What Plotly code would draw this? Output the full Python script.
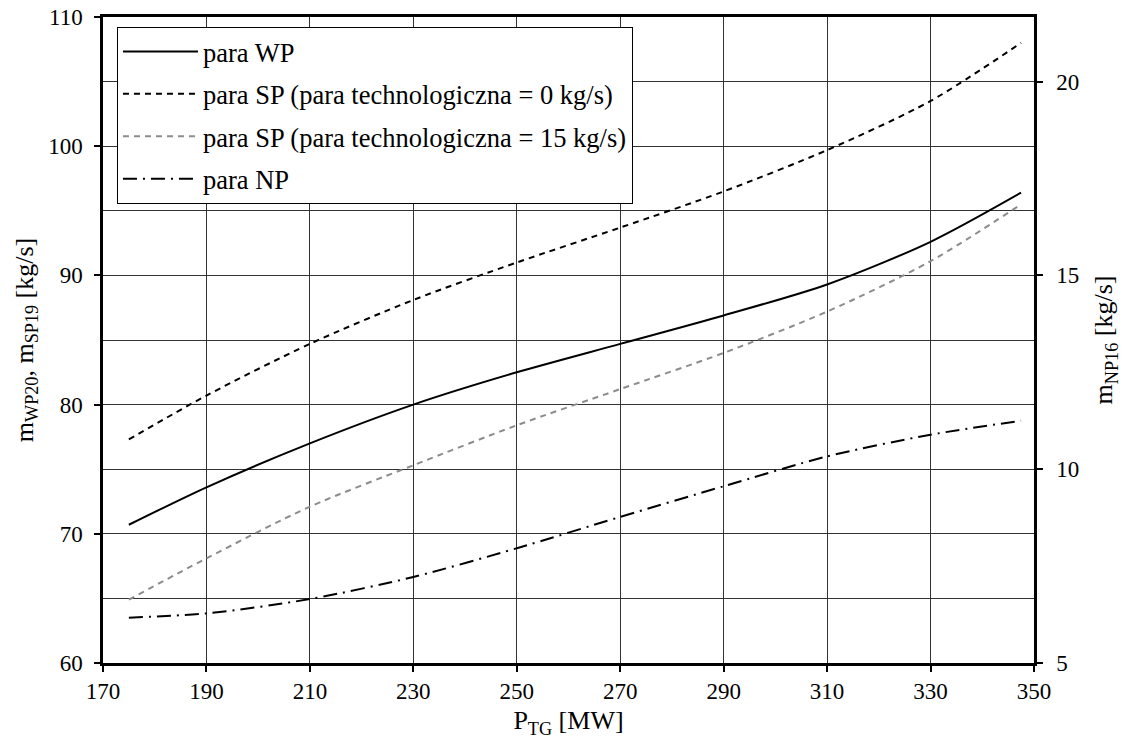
import plotly.graph_objects as go

# Turbine-generator power [MW]
p_tg = [175, 190, 210, 230, 250, 270, 290, 310, 330, 347.5]

# Steam flows [kg/s]
para_wp = [70.7, 73.6, 77.0, 80.0, 82.5, 84.7, 86.9, 89.3, 92.6, 96.4]
para_sp_0 = [77.3, 80.7, 84.7, 88.1, 91.0, 93.7, 96.5, 99.7, 103.5, 108.0]
para_sp_15 = [64.9, 68.1, 72.1, 75.3, 78.4, 81.2, 84.0, 87.2, 91.1, 95.5]
para_np = [6.17, 6.28, 6.65, 7.22, 7.96, 8.77, 9.56, 10.33, 10.89, 11.25]

names = [
    "para WP",
    "para SP (para technologiczna = 0 kg/s)",
    "para SP (para technologiczna = 15 kg/s)",
    "para NP",
]

FONT = "Liberation Serif, Times New Roman, serif"

fig = go.Figure()

fig.add_trace(go.Scatter(
    x=p_tg, y=para_wp, name=names[0], mode="lines", legendgroup="a",
    line=dict(color="black", width=2, shape="spline", smoothing=0.8),
))
fig.add_trace(go.Scatter(
    x=p_tg, y=para_sp_0, name=names[1], mode="lines", legendgroup="b",
    line=dict(color="black", width=2, dash="6px,5px", shape="spline", smoothing=0.8),
))
fig.add_trace(go.Scatter(
    x=p_tg, y=para_sp_15, name=names[2], mode="lines", legendgroup="c",
    line=dict(color="#8c8c8c", width=2, dash="6px,5px", shape="spline", smoothing=0.8),
))
fig.add_trace(go.Scatter(
    x=p_tg, y=para_np, name=names[3], mode="lines", legendgroup="d", yaxis="y2",
    line=dict(color="black", width=2, dash="14px,6px,2px,6px", shape="spline", smoothing=0.8),
))

axis_common = dict(
    showline=True, linecolor="black", linewidth=2.5,
    ticks="outside", ticklen=6, tickwidth=2, tickcolor="black",
    tickfont=dict(family=FONT, size=23, color="black"),
    zeroline=False, automargin=False,
)

fig.update_layout(
    width=1123, height=749,
    margin=dict(l=103, r=89, t=17, b=86, autoexpand=False),
    paper_bgcolor="white", plot_bgcolor="white",
    font=dict(family=FONT, color="black"),
    xaxis=dict(
        range=[170, 350], tickvals=list(range(170, 351, 20)),
        showgrid=True, gridcolor="#333333", gridwidth=1,
        mirror=True,
        title=dict(text="P<sub>TG</sub> [MW]", font=dict(family=FONT, size=26), standoff=8),
        **axis_common,
    ),
    yaxis=dict(
        range=[60, 110], tickvals=list(range(60, 111, 10)),
        showgrid=True, gridcolor="#333333", gridwidth=1,
        minor=dict(dtick=5, tick0=60, showgrid=True, gridcolor="#333333", gridwidth=1, ticks=""),
        ticklabelstandoff=7,
        title=dict(text="m<sub>WP20</sub>, m<sub>SP19</sub> [kg/s]", font=dict(family=FONT, size=26), standoff=8),
        **axis_common,
    ),
    yaxis2=dict(
        overlaying="y", side="right",
        range=[5, 5 + 50 / 3], tickvals=[5, 10, 15, 20],
        showgrid=False,
        ticklabelstandoff=9,
        title=dict(text="m<sub>NP16</sub> [kg/s]", font=dict(family=FONT, size=26), standoff=16),
        **axis_common,
    ),
    legend=dict(
        x=0.015, y=0.985, xanchor="left", yanchor="top",
        bgcolor="white", bordercolor="black", borderwidth=1,
        font=dict(family=FONT, size=26.5, color="black"),
        tracegroupgap=5, itemwidth=75,
    ),
    showlegend=True,
)

fig.write_html("out.html")
